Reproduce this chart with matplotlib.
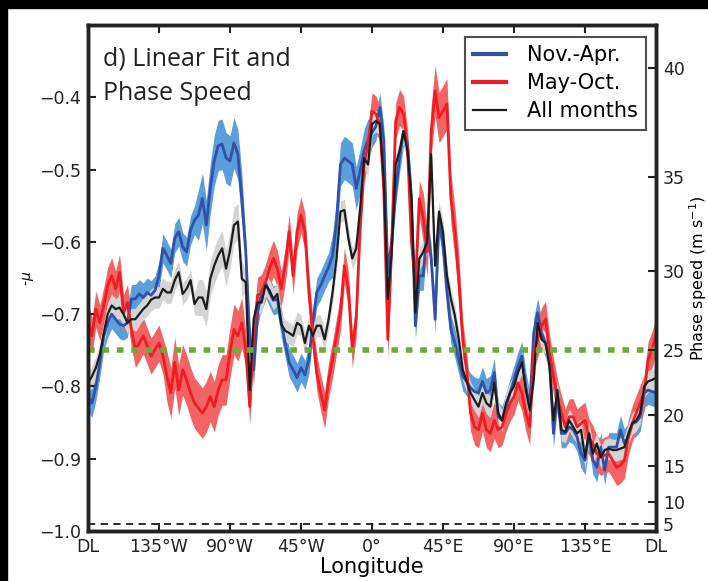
import numpy as np
import matplotlib
matplotlib.use("Agg")
import matplotlib.pyplot as plt
from matplotlib.patches import Rectangle

plt.rcParams['font.family'] = ['DejaVu Sans']

# longitude grid, dateline to dateline
lon = np.arange(-180, 182.5, 2.5)

# mu (positive), plotted as -mu
mu_nov = [0.814, 0.823, 0.800, 0.767, 0.730, 0.712, 0.700, 0.707, 0.714, 0.716,
          0.712, 0.679, 0.679, 0.672, 0.677, 0.670, 0.674, 0.667, 0.647, 0.609,
          0.619, 0.630, 0.595, 0.586, 0.607, 0.614, 0.584, 0.570, 0.563, 0.540,
          0.577, 0.526, 0.488, 0.467, 0.465, 0.484, 0.488, 0.463, 0.479, 0.540,
          0.614, 0.735, 0.777, 0.698, 0.670, 0.656, 0.670, 0.681, 0.679, 0.712,
          0.740, 0.767, 0.777, 0.788, 0.774, 0.784, 0.763, 0.712, 0.670, 0.660,
          0.647, 0.635, 0.619, 0.572, 0.493, 0.484, 0.488, 0.493, 0.526, 0.502,
          0.474, 0.460, 0.449, 0.440, 0.414, 0.460, 0.642, 0.600, 0.530, 0.484,
          0.447, 0.465, 0.540, 0.716, 0.647, 0.647, 0.577, 0.623, 0.707, 0.567,
          0.605, 0.670, 0.721, 0.740, 0.763, 0.786, 0.793, 0.802, 0.807, 0.809,
          0.793, 0.809, 0.805, 0.781, 0.842, 0.847, 0.828, 0.809, 0.791, 0.772,
          0.758, 0.800, 0.828, 0.726, 0.698, 0.726, 0.740, 0.763, 0.865, 0.809,
          0.865, 0.865, 0.856, 0.860, 0.870, 0.893, 0.902, 0.865, 0.902, 0.912,
          0.884, 0.916, 0.884, 0.884, 0.884, 0.860, 0.879, 0.870, 0.851, 0.849,
          0.842, 0.809, 0.805, 0.807, 0.809]

mu_may = [0.707, 0.730, 0.693, 0.712, 0.688, 0.660, 0.647, 0.665, 0.642, 0.698,
          0.684, 0.721, 0.749, 0.740, 0.730, 0.744, 0.758, 0.749, 0.740, 0.758,
          0.786, 0.809, 0.767, 0.805, 0.777, 0.791, 0.809, 0.823, 0.830, 0.837,
          0.828, 0.814, 0.828, 0.805, 0.791, 0.791, 0.753, 0.721, 0.730, 0.712,
          0.749, 0.828, 0.730, 0.674, 0.670, 0.656, 0.637, 0.623, 0.637, 0.665,
          0.633, 0.586, 0.647, 0.586, 0.563, 0.586, 0.670, 0.730, 0.781, 0.809,
          0.833, 0.791, 0.763, 0.730, 0.698, 0.633, 0.665, 0.749, 0.707, 0.577,
          0.493, 0.465, 0.419, 0.423, 0.437, 0.530, 0.735, 0.605, 0.433, 0.414,
          0.423, 0.470, 0.600, 0.660, 0.540, 0.567, 0.614, 0.447, 0.391, 0.428,
          0.419, 0.409, 0.540, 0.586, 0.651, 0.735, 0.777, 0.837, 0.856, 0.860,
          0.837, 0.860, 0.865, 0.847, 0.860, 0.856, 0.837, 0.823, 0.814, 0.795,
          0.809, 0.837, 0.856, 0.753, 0.735, 0.716, 0.707, 0.753, 0.786, 0.814,
          0.837, 0.856, 0.842, 0.842, 0.856, 0.851, 0.847, 0.870, 0.879, 0.893,
          0.898, 0.895, 0.893, 0.902, 0.912, 0.909, 0.902, 0.870, 0.851, 0.837,
          0.823, 0.809, 0.763, 0.749, 0.730]

mu_all = [0.795, 0.786, 0.774, 0.756, 0.726, 0.700, 0.688, 0.693, 0.691, 0.700,
          0.712, 0.707, 0.707, 0.700, 0.693, 0.688, 0.680, 0.677, 0.677, 0.665,
          0.670, 0.670, 0.653, 0.642, 0.672, 0.665, 0.653, 0.686, 0.677, 0.677,
          0.693, 0.651, 0.633, 0.619, 0.609, 0.637, 0.612, 0.577, 0.572, 0.651,
          0.656, 0.805, 0.707, 0.684, 0.684, 0.660, 0.667, 0.679, 0.672, 0.714,
          0.723, 0.726, 0.730, 0.712, 0.716, 0.740, 0.716, 0.730, 0.716, 0.716,
          0.735, 0.707, 0.670, 0.623, 0.558, 0.556, 0.595, 0.623, 0.609, 0.553,
          0.484, 0.493, 0.437, 0.433, 0.437, 0.516, 0.679, 0.614, 0.493, 0.474,
          0.447, 0.474, 0.540, 0.698, 0.623, 0.614, 0.600, 0.479, 0.633, 0.558,
          0.586, 0.647, 0.679, 0.702, 0.735, 0.777, 0.793, 0.809, 0.819, 0.828,
          0.809, 0.823, 0.828, 0.795, 0.837, 0.847, 0.823, 0.809, 0.800, 0.781,
          0.767, 0.805, 0.833, 0.791, 0.712, 0.735, 0.740, 0.772, 0.847, 0.805,
          0.860, 0.863, 0.847, 0.856, 0.865, 0.860, 0.898, 0.865, 0.893, 0.879,
          0.898, 0.888, 0.886, 0.888, 0.888, 0.886, 0.884, 0.865, 0.851, 0.847,
          0.837, 0.800, 0.793, 0.791, 0.788]

# half-width of the shaded uncertainty bands
err_nov = [0.02] * 28 + [0.035] * 12 + [0.02] * 22 + [0.03] * 10 + [0.02] * 73
err_may = [0.025] * 20 + [0.035] * 20 + [0.025] * 45 + [0.035] * 10 + [0.025] * 50
err_all = [0.015] * 28 + [0.025] * 12 + [0.015] * 105

lon_ticks = [-180, -135, -90, -45, 0, 45, 90, 135, 180]
lon_labels = ['DL', '135°W', '90°W', '45°W', '0°', '45°E', '90°E', '135°E', 'DL']
mu_ticks = [-1.0, -0.9, -0.8, -0.7, -0.6, -0.5, -0.4]
speed_ticks = [5, 10, 15, 20, 25, 30, 35, 40]

fig = plt.figure(figsize=(7.08, 5.81), dpi=100)
fig.patches.append(Rectangle((0, 1 - 8 / 581), 1, 8 / 581, color='black',
                             transform=fig.transFigure, zorder=-1))
fig.patches.append(Rectangle((0, 0), 7 / 708, 1, color='black',
                             transform=fig.transFigure, zorder=-1))
ax = fig.add_axes([88 / 708, 1 - 531 / 581, 568 / 708, 506 / 581])

series = [
    (mu_nov, err_nov, '#3250a8', '#5a9edb', 'Nov.-Apr.', 2.0),
    (mu_may, err_may, '#f01c24', '#f26464', 'May-Oct.', 2.0),
    (mu_all, err_all, '#1c1c1c', '#d4d4d4', 'All months', 1.6),
]
for mu, err, col, band, lab, lw in series:
    y = -np.array(mu)
    e = np.array(err)
    ax.fill_between(lon, y - e, y + e, color=band, lw=0, zorder=1)
for mu, err, col, band, lab, lw in series:
    ax.plot(lon, -np.array(mu), color=col, lw=lw, label=lab, zorder=3)

# 25 m/s reference and 5 m/s line
ax.axhline(-0.75, color='#6aab3c', lw=4, ls=(0, (1.2, 1.4)), zorder=4)
ax.axhline(-0.99, color='#1c1c1c', lw=1.3, ls=(0, (4, 3)), zorder=4)

ax.set_xlim(-180, 180)
ax.set_ylim(-1.0, -0.3)
ax.set_xticks(lon_ticks)
ax.set_xticklabels(lon_labels)
ax.set_yticks(mu_ticks)
ax.tick_params(direction='in', length=6, width=1.5, labelsize=12.5, top=True,
               colors='#222222', pad=5)
ax.tick_params(axis='x', pad=5)
for s in ax.spines.values():
    s.set_linewidth(2.5)
    s.set_color('#222222')
ax.set_xlabel('Longitude', fontsize=15, labelpad=1)
ax.set_ylabel('-$\\mu$', fontsize=10, labelpad=2)

ax.text(0.026, 0.957, 'd) Linear Fit and\nPhase Speed', transform=ax.transAxes,
        fontsize=18, va='top', ha='left', linespacing=1.5, color='#222222',
        family=['Open Sans', 'DejaVu Sans'])

leg = ax.legend(loc='upper right', fontsize=15, frameon=True, fancybox=False,
                edgecolor='#222222', handlelength=1.6, handletextpad=1.0,
                borderpad=0.4, labelspacing=0.38, borderaxespad=0,
                bbox_to_anchor=(0.983, 0.976))
leg.get_frame().set_linewidth(1.5)
leg.set_zorder(10)
for h in leg.get_lines()[:2]:
    h.set_linewidth(3)

ax2 = ax.twinx()
ax2.set_ylim(-1.0, -0.3)
ax2.set_yticks([(c / 50.0) ** 2 - 1 for c in speed_ticks])
ax2.set_yticklabels([str(c) for c in speed_ticks])
ax2.tick_params(direction='in', length=6, width=1.5, labelsize=12.5,
                colors='#222222', pad=5)
for s in ax2.spines.values():
    s.set_linewidth(2.5)
    s.set_color('#222222')
ax2.set_ylabel('Phase speed (m s$^{-1}$)', fontsize=11.5, labelpad=2)

fig.savefig('out.png', dpi=100)
